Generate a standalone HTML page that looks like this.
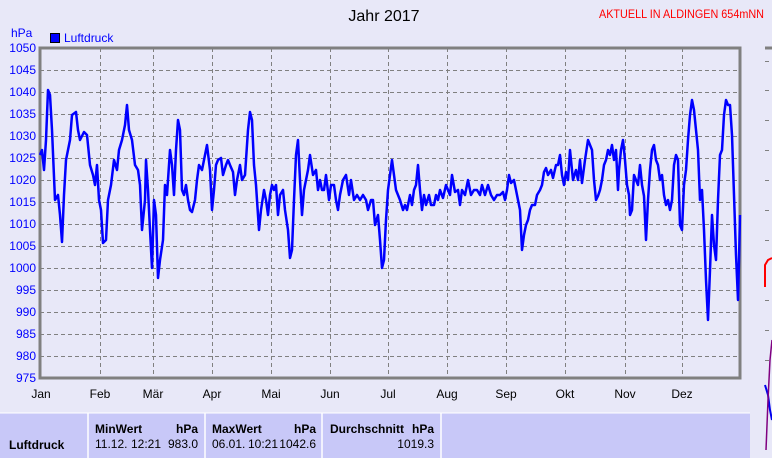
<!DOCTYPE html><html><head><style>
body{margin:0;width:772px;height:458px;background:#e8e8f8;overflow:hidden;font-family:"Liberation Sans",sans-serif;position:relative}
</style></head><body>
<svg width="772" height="458" style="position:absolute;left:0;top:0" font-family="Liberation Sans, sans-serif">
<text x="384" y="21" font-size="16" text-anchor="middle" fill="#000">Jahr 2017</text>
<text x="599" y="18" font-size="12" fill="#f00" textLength="165" lengthAdjust="spacingAndGlyphs">AKTUELL IN ALDINGEN 654mNN</text>
<text x="11" y="37" font-size="12" fill="#00f">hPa</text>
<rect x="50.5" y="33.5" width="9" height="9" fill="#00f" stroke="#000"/>
<text x="64" y="42" font-size="12" fill="#00f">Luftdruck</text>
<g stroke="#808080" stroke-dasharray="4,3" stroke-width="1">
<line x1="40" x2="740" y1="70.5" y2="70.5"/><line x1="40" x2="740" y1="92.5" y2="92.5"/><line x1="40" x2="740" y1="114.5" y2="114.5"/><line x1="40" x2="740" y1="136.5" y2="136.5"/><line x1="40" x2="740" y1="158.5" y2="158.5"/><line x1="40" x2="740" y1="180.5" y2="180.5"/><line x1="40" x2="740" y1="202.5" y2="202.5"/><line x1="40" x2="740" y1="224.5" y2="224.5"/><line x1="40" x2="740" y1="246.5" y2="246.5"/><line x1="40" x2="740" y1="268.5" y2="268.5"/><line x1="40" x2="740" y1="290.5" y2="290.5"/><line x1="40" x2="740" y1="312.5" y2="312.5"/><line x1="40" x2="740" y1="334.5" y2="334.5"/><line x1="40" x2="740" y1="356.5" y2="356.5"/>
<line x1="100.5" x2="100.5" y1="48" y2="378"/><line x1="153.5" x2="153.5" y1="48" y2="378"/><line x1="212.5" x2="212.5" y1="48" y2="378"/><line x1="271.5" x2="271.5" y1="48" y2="378"/><line x1="330.5" x2="330.5" y1="48" y2="378"/><line x1="388.5" x2="388.5" y1="48" y2="378"/><line x1="447.5" x2="447.5" y1="48" y2="378"/><line x1="506.5" x2="506.5" y1="48" y2="378"/><line x1="565.5" x2="565.5" y1="48" y2="378"/><line x1="625.5" x2="625.5" y1="48" y2="378"/><line x1="682.5" x2="682.5" y1="48" y2="378"/>
<line x1="765" x2="772" y1="61.5" y2="61.5"/><line x1="765" x2="772" y1="90.5" y2="90.5"/><line x1="765" x2="772" y1="120.5" y2="120.5"/><line x1="765" x2="772" y1="150.5" y2="150.5"/><line x1="765" x2="772" y1="180.5" y2="180.5"/><line x1="765" x2="772" y1="210.5" y2="210.5"/><line x1="765" x2="772" y1="240.5" y2="240.5"/><line x1="765" x2="772" y1="300.5" y2="300.5"/><line x1="765" x2="772" y1="330.5" y2="330.5"/><line x1="765" x2="772" y1="360.5" y2="360.5"/>
</g>
<rect x="40" y="48" width="700" height="330" fill="none" stroke="#808080" stroke-width="3"/>
<line x1="765" x2="772" y1="48" y2="48" stroke="#808080" stroke-width="3"/>
<polyline fill="none" stroke="#f00" stroke-width="2" points="765,287 765,265 768,260 772,258"/>
<polyline fill="none" stroke="#0000ee" stroke-width="2" points="765,385 768,395 770,410 772,420"/>
<polyline fill="none" stroke="#800080" stroke-width="1.5" points="766,450 768,400 770,360 772,340"/>
<g font-size="12" fill="#00f" text-anchor="end">
<text x="36" y="52">1050</text><text x="36" y="74">1045</text><text x="36" y="96">1040</text><text x="36" y="118">1035</text><text x="36" y="140">1030</text><text x="36" y="162">1025</text><text x="36" y="184">1020</text><text x="36" y="206">1015</text><text x="36" y="228">1010</text><text x="36" y="250">1005</text><text x="36" y="272">1000</text><text x="36" y="294">995</text><text x="36" y="316">990</text><text x="36" y="338">985</text><text x="36" y="360">980</text><text x="36" y="382">975</text>
</g>
<g font-size="12" fill="#000" text-anchor="middle">
<text x="41" y="398">Jan</text><text x="100" y="398">Feb</text><text x="153" y="398">Mär</text><text x="212" y="398">Apr</text><text x="271" y="398">Mai</text><text x="330" y="398">Jun</text><text x="388" y="398">Jul</text><text x="447" y="398">Aug</text><text x="506" y="398">Sep</text><text x="565" y="398">Okt</text><text x="625" y="398">Nov</text><text x="682" y="398">Dez</text>
</g>
<polyline fill="none" stroke="#0000ff" stroke-width="2.5" stroke-linejoin="round" points="40,155 42,150 44,170 46,140 48,90 50,95 52,130 55,200 58,195 60,215 62,242 64,195 66,160 70,140 72,115 76,112 78,130 80,140 84,132 87,135 90,165 93,175 95,185 97,165 99,200 101,210 103,243 106,240 108,200 111,185 114,160 117,170 119,150 122,140 125,125 127,105 129,130 132,140 135,165 138,170 140,185 142,230 145,200 146,160 148,190 150,230 152,268 154,200 156,215 158,278 160,260 163,240 165,185 167,195 170,150 172,165 174,195 176,150 178,120 180,130 182,190 184,195 186,185 188,200 190,210 192,212 195,200 197,180 199,165 202,170 205,155 207,145 210,170 212,210 214,190 216,165 218,160 221,158 223,175 226,165 228,160 230,165 233,172 235,195 237,180 240,165 242,180 245,175 248,130 250,112 252,120 254,165 256,185 259,230 261,210 264,190 266,200 268,215 270,195 272,185 274,190 276,185 278,215 280,195 283,190 285,210 288,230 290,258 292,250 294,200 296,155 298,140 300,180 302,215 304,190 306,180 308,170 310,155 313,175 316,170 318,190 320,180 322,190 324,190 326,175 329,200 331,185 334,185 336,200 338,210 340,195 343,180 346,175 349,195 351,180 354,200 357,195 360,200 363,195 366,200 368,210 371,200 373,200 375,225 378,215 380,240 382,268 384,260 386,220 388,190 390,175 392,160 394,175 396,190 398,195 400,200 403,210 405,205 407,210 410,195 412,205 414,190 416,185 418,165 420,190 422,210 424,195 426,205 429,195 431,205 434,205 436,195 438,200 440,190 443,198 446,185 450,195 452,175 455,192 458,190 460,205 462,190 465,195 468,180 471,195 474,190 477,190 480,195 482,185 485,195 488,185 491,195 494,200 497,195 500,195 503,192 505,200 507,190 509,175 511,183 514,180 516,190 518,200 520,210 522,250 524,235 526,225 528,220 530,210 532,205 535,205 537,195 540,190 542,185 544,172 546,168 548,175 551,170 553,178 556,165 558,165 560,155 562,175 564,185 566,172 568,180 570,150 573,180 576,170 578,180 580,160 582,183 585,160 588,140 590,145 592,150 594,180 596,200 598,196 600,190 602,180 604,165 606,160 608,150 610,155 612,145 614,160 616,150 618,190 619,170 621,150 623,140 625,160 627,185 629,195 630,215 632,210 634,175 636,180 638,185 640,165 642,185 644,196 646,240 648,200 650,170 652,150 654,145 656,160 658,165 660,180 662,175 664,195 666,205 668,200 670,210 672,200 674,165 676,155 678,160 680,225 682,230 684,185 686,170 688,140 690,115 692,100 694,110 696,130 698,150 700,200 702,190 704,230 706,280 708,320 710,270 712,215 714,245 716,260 718,200 720,155 722,150 724,115 726,100 728,105 730,105 732,135 734,195 736,255 738,300 739,260 740,215"/>
<rect x="0" y="413" width="750" height="45" fill="#c8c8f8"/>
<line x1="0" x2="750" y1="413" y2="413" stroke="#fff" stroke-width="1"/>
<g stroke="#fff" stroke-width="1.5"><line x1="88" x2="88" y1="413" y2="458"/><line x1="205" x2="205" y1="413" y2="458"/><line x1="322" x2="322" y1="413" y2="458"/><line x1="441" x2="441" y1="413" y2="458"/></g>
<g font-size="12" fill="#000">
<text x="9" y="449" font-weight="bold">Luftdruck</text>
<text x="95" y="433" font-weight="bold">MinWert</text><text x="198" y="433" font-weight="bold" text-anchor="end">hPa</text>
<text x="95" y="448">11.12.</text><text x="131" y="448">12:21</text><text x="198" y="448" text-anchor="end">983.0</text>
<text x="212" y="433" font-weight="bold">MaxWert</text><text x="316" y="433" font-weight="bold" text-anchor="end">hPa</text>
<text x="212" y="448">06.01.</text><text x="248" y="448">10:21</text><text x="316" y="448" text-anchor="end">1042.6</text>
<text x="330" y="433" font-weight="bold">Durchschnitt</text><text x="434" y="433" font-weight="bold" text-anchor="end">hPa</text>
<text x="434" y="448" text-anchor="end">1019.3</text>
</g>
</svg>
</body></html>
